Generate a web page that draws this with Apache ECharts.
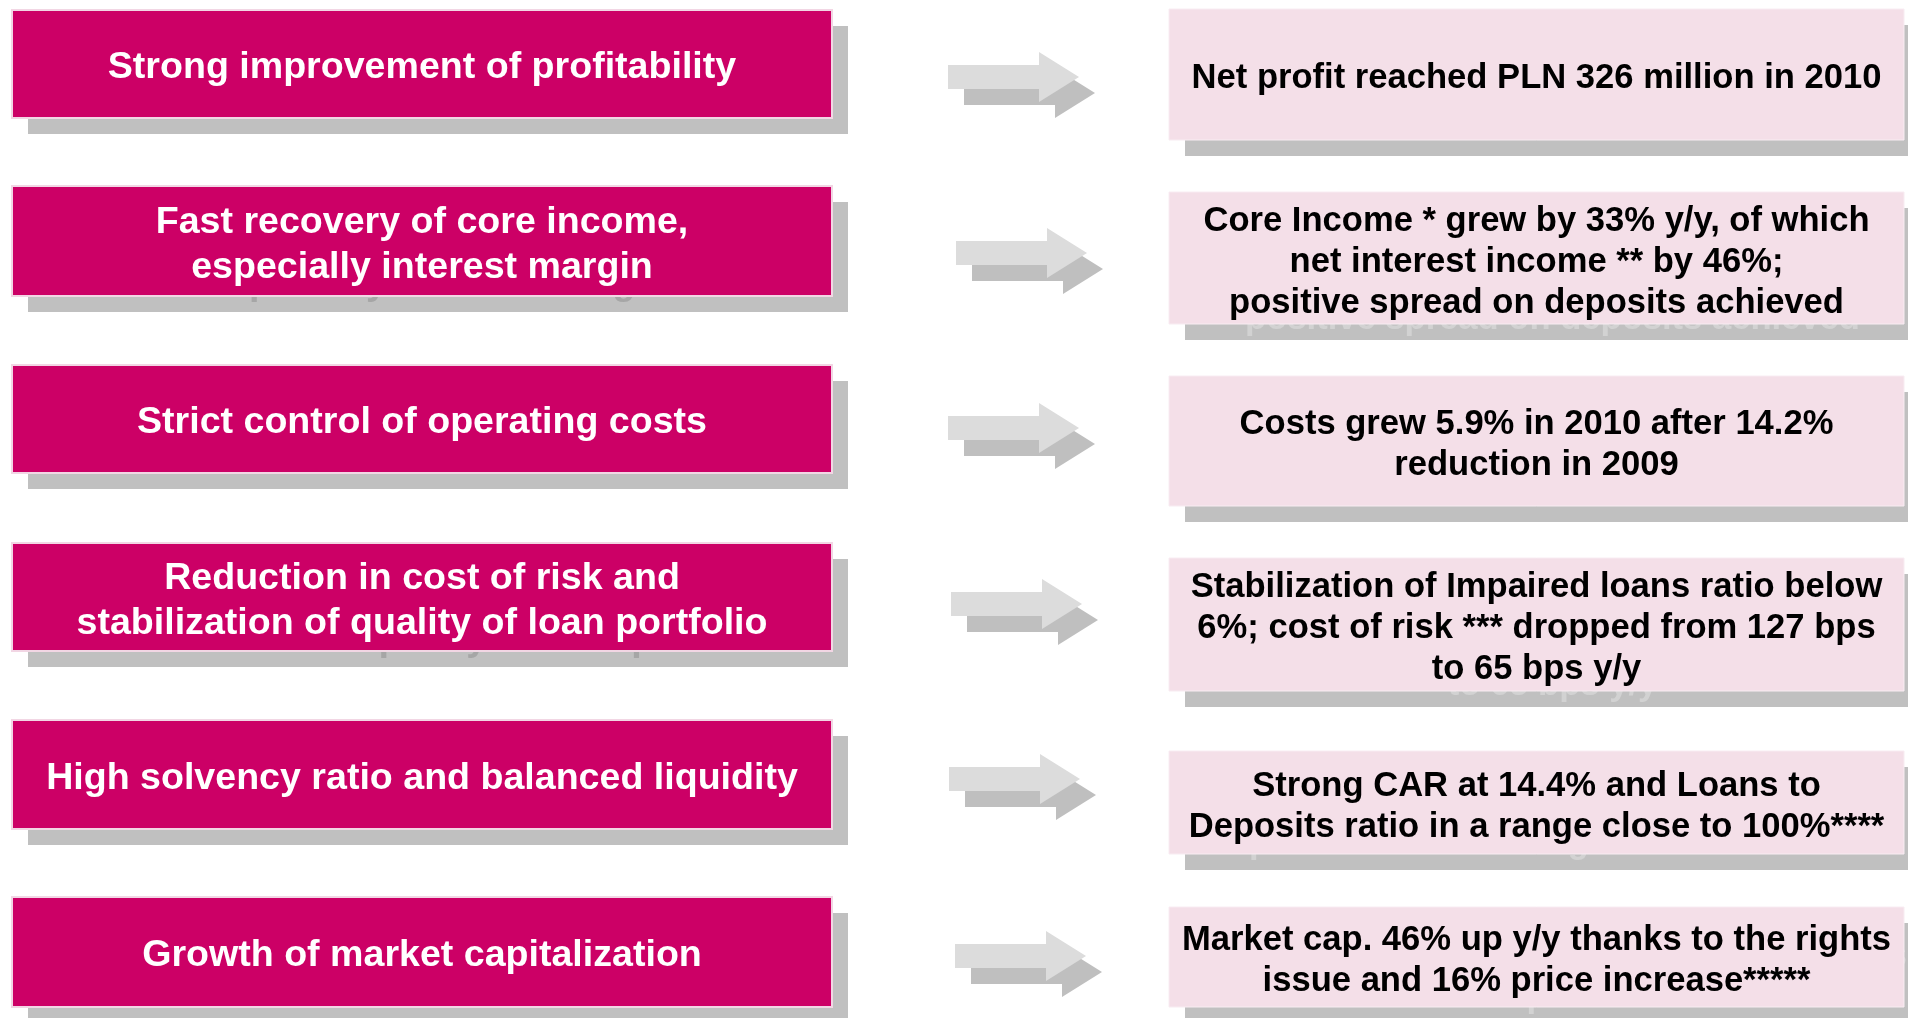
<!DOCTYPE html>
<html>
<head>
<meta charset="utf-8">
<script src="https://cdn.jsdelivr.net/npm/echarts@6/dist/echarts.min.js"></script>
<style>
  html, body { margin: 0; padding: 0; background: #fff; }
  #chart { width: 1908px; height: 1018px; }
</style>
</head>
<body>
<div id="chart"></div>
<script>
// texts of the six rows
const leftLabels = [
  'Strong improvement of profitability',
  'Fast recovery of core income,\nespecially interest margin',
  'Strict control of operating costs',
  'Reduction in cost of risk and\nstabilization of quality of loan portfolio',
  'High solvency ratio and balanced liquidity',
  'Growth of market capitalization'
]
const rightLabels = [
  'Net profit reached PLN 326 million in 2010',
  'Core Income * grew by 33% y/y, of which\nnet interest income ** by 46%;\npositive spread on deposits achieved',
  'Costs grew 5.9% in 2010 after 14.2%\nreduction in 2009',
  'Stabilization of Impaired loans ratio below\n6%; cost of risk *** dropped from 127 bps\nto 65 bps y/y',
  'Strong CAR at 14.4% and Loans to\nDeposits ratio in a range close to 100%****',
  'Market cap. 46% up y/y thanks to the rights\nissue and 16% price increase*****'
]

// layout (pixels)
const leftTop = [10, 186, 365, 543, 720, 897]
const leftBottom = [118, 296, 473, 651, 829, 1007]
const rightTop = [9, 192, 376, 558, 751, 907]
const rightBottom = [140, 324, 506, 691, 854, 1007]
const arrowX = [948, 956, 948, 951, 949, 955]
const arrowY = [77, 253, 428, 604, 779, 956]

const LEFT_X0 = 12, LEFT_X1 = 832
const RIGHT_X0 = 1169, RIGHT_X1 = 1904
const SH = 16
const TEXT_DY = 4
const FONT = '"Liberation Sans", Arial, sans-serif'
const LEFT_FONT = 'bold 37.6px ' + FONT
const RIGHT_FONT = 'bold 34.6px ' + FONT

function arrowPoints(x, cy) {
  return [
    [x, cy - 12], [x + 91, cy - 12], [x + 91, cy - 25], [x + 131, cy],
    [x + 91, cy + 25], [x + 91, cy + 12], [x, cy + 12]
  ]
}

const elements = []
leftLabels.forEach(function (txt, i) {
  const y0 = leftTop[i], y1 = leftBottom[i]
  const w = LEFT_X1 - LEFT_X0, h = y1 - y0
  const cx = (LEFT_X0 + LEFT_X1) / 2, cy = (y0 + y1) / 2 + TEXT_DY
  elements.push({ type: 'rect', shape: { x: LEFT_X0 + SH, y: y0 + SH, width: w, height: h }, style: { fill: '#c0c0c0' } })
  elements.push({ type: 'text', x: cx + SH, y: cy + SH, style: { text: txt, fill: '#a6a6a6', font: LEFT_FONT, align: 'center', verticalAlign: 'middle', lineHeight: 45 } })
  elements.push({ type: 'rect', shape: { x: LEFT_X0, y: y0, width: w, height: h }, style: { fill: '#cc0066', stroke: '#f2d6e4', lineWidth: 2 } })
  elements.push({ type: 'text', x: cx, y: cy, style: { text: txt, fill: '#ffffff', font: LEFT_FONT, align: 'center', verticalAlign: 'middle', lineHeight: 45 } })
})

rightLabels.forEach(function (txt, i) {
  const y0 = rightTop[i], y1 = rightBottom[i]
  const w = RIGHT_X1 - RIGHT_X0, h = y1 - y0
  const cx = (RIGHT_X0 + RIGHT_X1) / 2, cy = (y0 + y1) / 2 + TEXT_DY
  elements.push({ type: 'rect', shape: { x: RIGHT_X0 + SH, y: y0 + SH, width: w, height: h }, style: { fill: '#c0c0c0' } })
  elements.push({ type: 'text', x: cx + SH, y: cy + SH, style: { text: txt, fill: '#d2d2d2', font: RIGHT_FONT, align: 'center', verticalAlign: 'middle', lineHeight: 41 } })
  elements.push({ type: 'rect', shape: { x: RIGHT_X0, y: y0, width: w, height: h }, style: { fill: '#f4dfe8', stroke: '#f8ecf2', lineWidth: 1 } })
  elements.push({ type: 'text', x: cx, y: cy, style: { text: txt, fill: '#000000', font: RIGHT_FONT, align: 'center', verticalAlign: 'middle', lineHeight: 41 } })
})

arrowX.forEach(function (x, i) {
  const cy = arrowY[i]
  elements.push({ type: 'polygon', shape: { points: arrowPoints(x + SH, cy + SH) }, style: { fill: '#bfbfbf' } })
  elements.push({ type: 'polygon', shape: { points: arrowPoints(x, cy) }, style: { fill: '#dcdcdc' } })
})

const chart = echarts.init(document.getElementById('chart'), null, { renderer: 'canvas' })
chart.setOption({
  backgroundColor: '#ffffff',
  animation: false,
  graphic: { elements: elements }
})
window.addEventListener('resize', function () { chart.resize() })
</script>
</body>
</html>
